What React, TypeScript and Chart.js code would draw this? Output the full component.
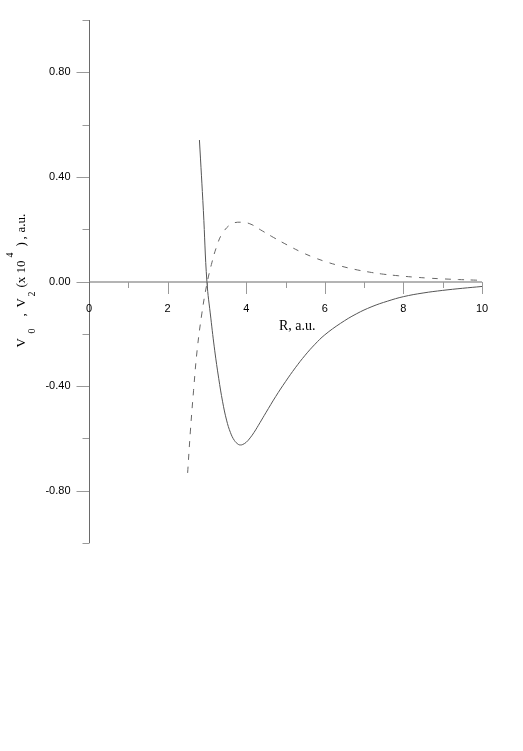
import React, { useEffect, useRef } from "react";
import { Chart, registerables } from "chart.js";

Chart.register(...registerables);

// V0 (solid) curve
const R0 = [2.81, 2.91, 3.0, 3.1, 3.2, 3.3, 3.4, 3.5, 3.6, 3.7, 3.8, 3.85, 3.9, 4.0, 4.1, 4.2, 4.35, 4.5, 4.75, 5.0, 5.25, 5.5, 5.75, 6.0, 6.4, 6.8, 7.2, 7.6, 8.0, 8.5, 9.0, 9.5, 10.0];
const V0 = [0.541, 0.272, 0.0, -0.14, -0.265, -0.37, -0.46, -0.53, -0.578, -0.608, -0.623, -0.625, -0.624, -0.615, -0.598, -0.577, -0.54, -0.502, -0.44, -0.383, -0.33, -0.282, -0.24, -0.204, -0.16, -0.124, -0.096, -0.075, -0.058, -0.044, -0.034, -0.026, -0.019];

// V2 (x10^4, dashed) curve
const R2 = [2.51, 2.58, 2.66, 2.75, 2.87, 3.0, 3.13, 3.24, 3.39, 3.64, 3.94, 4.15, 4.36, 4.7, 5.04, 5.38, 5.72, 6.06, 6.36, 6.74, 7.13, 7.49, 7.87, 8.25, 8.63, 9.01, 9.4, 9.78, 10.0];
const V2 = [-0.732, -0.572, -0.418, -0.265, -0.124, -0.009, 0.074, 0.13, 0.183, 0.221, 0.226, 0.217, 0.198, 0.168, 0.14, 0.114, 0.092, 0.074, 0.061, 0.047, 0.036, 0.028, 0.022, 0.017, 0.013, 0.01, 0.0075, 0.0055, 0.0045];

const X_MAJOR = [0, 2, 4, 6, 8, 10];
const X_MINOR = [1, 3, 5, 7, 9];
const Y_MAJOR = [0.8, 0.4, 0.0, -0.4, -0.8];
const Y_MINOR = [1.0, 0.6, 0.2, -0.2, -0.6, -1.0];
const X_TITLE = "R, a.u.";

const axesPlugin = {
  id: "customAxes",
  beforeDatasetsDraw(chart: any) {
    const { ctx, scales } = chart;
    const xs = scales.x;
    const ys = scales.y;
    const x0 = Math.round(xs.getPixelForValue(0)) + 0.5;
    const y0 = Math.round(ys.getPixelForValue(0));
    ctx.save();
    // x axis line
    ctx.strokeStyle = "#b4b4b4";
    ctx.lineWidth = 2;
    ctx.beginPath();
    ctx.moveTo(xs.getPixelForValue(0), y0);
    ctx.lineTo(xs.getPixelForValue(10), y0);
    ctx.stroke();
    // x ticks
    ctx.lineWidth = 1;
    ctx.strokeStyle = "#9a9a9a";
    X_MAJOR.forEach((v) => {
      const px = Math.round(xs.getPixelForValue(v)) + 0.5;
      ctx.beginPath();
      ctx.moveTo(px, y0);
      ctx.lineTo(px, y0 + 12);
      ctx.stroke();
    });
    X_MINOR.forEach((v) => {
      const px = Math.round(xs.getPixelForValue(v)) + 0.5;
      ctx.beginPath();
      ctx.moveTo(px, y0);
      ctx.lineTo(px, y0 + 6);
      ctx.stroke();
    });
    // y ticks
    Y_MAJOR.forEach((v) => {
      const py = Math.round(ys.getPixelForValue(v)) + 0.5;
      ctx.beginPath();
      ctx.moveTo(x0 - 13, py);
      ctx.lineTo(x0, py);
      ctx.stroke();
    });
    Y_MINOR.forEach((v) => {
      const py = Math.round(ys.getPixelForValue(v)) + 0.5;
      ctx.beginPath();
      ctx.moveTo(x0 - 7, py);
      ctx.lineTo(x0, py);
      ctx.stroke();
    });
    // y axis line
    ctx.strokeStyle = "#6a6a6a";
    ctx.beginPath();
    ctx.moveTo(x0, ys.getPixelForValue(1));
    ctx.lineTo(x0, ys.getPixelForValue(-1));
    ctx.stroke();

    // tick labels
    ctx.fillStyle = "#000";
    ctx.font = '11px "Liberation Sans"';
    ctx.textAlign = "right";
    ctx.textBaseline = "middle";
    Y_MAJOR.forEach((v) => {
      ctx.fillText(v.toFixed(2), x0 - 19, ys.getPixelForValue(v));
    });
    ctx.textAlign = "center";
    X_MAJOR.forEach((v) => {
      ctx.fillText(String(v), xs.getPixelForValue(v), y0 + 27);
    });

    // x title
    ctx.font = '14px "Liberation Serif"';
    ctx.textBaseline = "alphabetic";
    ctx.fillText(X_TITLE, xs.getPixelForValue(5.3), y0 + 48);

    // y title (rotated, with sub/superscripts)
    ctx.translate(25, ys.getPixelForValue(0) + 66);
    ctx.rotate(-Math.PI / 2);
    ctx.textAlign = "left";
    const main = '13px "Liberation Serif"';
    const small = '10px "Liberation Serif"';
    const segs: [string, number, string, number][] = [
      ["V", 0, main, 0],
      ["0", 14, small, 10],
      [",", 31, main, 0],
      ["V", 40, main, 0],
      ["2", 51, small, 10],
      ["(x 10", 60, main, 0],
      ["4", 90, small, -12],
      [")", 101, main, 0],
      [",", 108, main, 0],
      ["a.u.", 115, main, 0],
    ];
    segs.forEach(([t, off, f, dy]) => {
      ctx.font = f;
      ctx.fillText(t, off, dy);
    });
    ctx.restore();
  },
};

export default function App() {
  const ref = useRef<HTMLCanvasElement>(null);
  useEffect(() => {
    if (!ref.current) return;
    const chart = new Chart(ref.current, {
      type: "line",
      data: {
        datasets: [
          {
            data: R0.map((r, i) => ({ x: r, y: V0[i] })),
            borderColor: "#555",
            borderWidth: 1,
            pointRadius: 0,
            tension: 0.4,
            fill: false,
            clip: false,
          },
          {
            data: R2.map((r, i) => ({ x: r, y: V2[i] })),
            borderColor: "#666",
            borderWidth: 1,
            borderDash: [6, 7],
            pointRadius: 0,
            tension: 0.4,
            fill: false,
            clip: false,
          },
        ],
      },
      options: {
        animation: false,
        responsive: false,
        devicePixelRatio: 1,
        layout: { padding: { left: 89, right: 41, top: 20, bottom: 208 } },
        plugins: { legend: { display: false }, tooltip: { enabled: false } },
        scales: {
          x: { type: "linear", min: 0, max: 10, display: false },
          y: { type: "linear", min: -1, max: 1, display: false },
        },
      } as any,
      plugins: [axesPlugin],
    } as any);
    return () => chart.destroy();
  }, []);
  return (
    <div style={{ position: "fixed", left: 0, top: 0, width: 523, height: 751, background: "#fff" }}>
      <canvas ref={ref} width={523} height={751} style={{ display: "block" }} />
    </div>
  );
}
